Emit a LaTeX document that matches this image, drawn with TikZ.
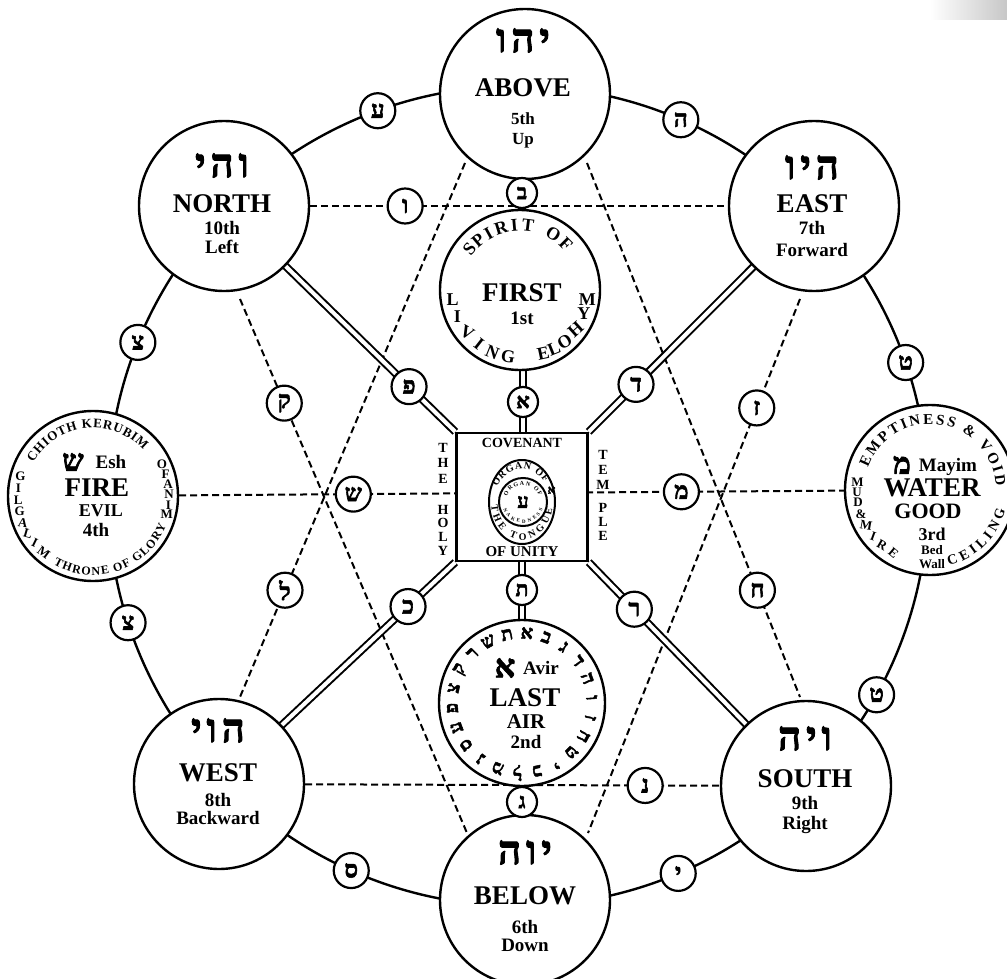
\documentclass[tikz,border=0pt]{standalone}
\usepackage{fontspec}
\setmainfont{Liberation Serif}
\newfontfamily\heb[Script=Hebrew,FakeBold=2.5]{Liberation Serif}
\TeXXeTstate=1
\usetikzlibrary{calc,decorations.text,shapes.geometric}
\pgfdeclarelayer{bg}
\pgfsetlayers{bg,main}
\newcommand\fs[1]{\fontsize{#1}{#1}\selectfont}
\newcommand\hword[3]{\beginR #1\kern5pt #2\kern5pt #3\endR}
\begin{document}
\begin{tikzpicture}[x=1pt,y=1pt,
 bigc/.style={circle,draw,line width=2.4pt,fill=white,minimum size=170pt,inner sep=0pt},
 lc/.style={circle,draw,line width=2.2pt,fill=white,minimum size=35pt,inner sep=0pt,font=\heb\bfseries\fs{24}},
 sc/.style={lc,minimum size=30pt,font=\heb\bfseries\fs{21}},
 lbl/.style={font=\bfseries\fs{27},inner sep=0pt,text height=18pt,text depth=0pt},
 sub/.style={font=\bfseries\fs{19},inner sep=0pt,text height=13pt,text depth=0pt},
 hbw/.style={font=\heb\bfseries\fs{40},inner sep=0pt,text height=24pt,text depth=0pt},
 sm/.style={font=\bfseries\fs{#1},inner sep=0pt},
 dsh/.style={line width=2pt,dash pattern=on 7pt off 4pt},
 dbl/.style={double,line width=2pt,double distance=4pt},
 ring/.style={line width=2.4pt},
]
\useasboundingbox (0,0) rectangle (1007,-979);
\shade[left color=white,right color=black!22] (930,0) rectangle (1007,-20);
\coordinate (rc) at (518,-496);
% big circles
\node[bigc] (above) at (525,-94) {};
\node[bigc] (north) at (224,-206) {};
\node[bigc] (east) at (814,-206) {};
\node[bigc] (fire) at (93,-496) {};
\node[bigc] (water) at (930,-490) {};
\node[bigc] (west) at (219,-784) {};
\node[bigc] (south) at (806,-786) {};
\node[bigc] (below) at (525,-900) {};
\node[bigc,minimum size=160pt] (first) at (520,-290) {};
\node[bigc,minimum size=166pt] (last) at (522,-703) {};
\node[draw,line width=2.4pt,fill=white,minimum width=131pt,minimum height=128pt,inner sep=0pt] (sq) at (522,-497) {};
% hexagram corner coordinates
\coordinate (a1) at (465,-163); \coordinate (w1) at (240,-697);
\coordinate (a2) at (587,-163); \coordinate (s2) at (800,-697);
\coordinate (n3) at (240,-299); \coordinate (b3) at (467,-833);
\coordinate (e4) at (800,-299); \coordinate (b4) at (588,-833);
% ring letters
\foreach \n/\a/\c in {ayin/110/ע, he/66.6/ה, tsu/158/צ, tetu/19/ט, tsl/198/צ, tetl/331/ט, samekh/246/ס, yod/293/י}
  \node[lc] (\n) at ($(rc)+(\a:410)$) {\c};
% stem letters
\node[sc] (bet) at (522,-193) {ב};
\node[sc] (alef) at (523,-402) {א};
\node[sc] (tav) at (522,-590) {ת};
\node[sc] (gimel) at (522,-802) {ג};
% diagonal letters
\node[lc] (pe) at ($(sq.north west)!0.2!(north)$) {פ};
\node[lc] (dalet) at ($(sq.north east)!0.21!(east)$) {ד};
\node[lc] (kaf) at ($(sq.south west)!0.2!(west)$) {כ};
\node[lc] (resh) at ($(sq.south east)!0.21!(south)$) {ר};
% hexagram letters
\node[lc] (qof) at ($(n3)!0.195!(b3)$) {ק};
\node[lc] (lamed) at ($(a1)!0.8!(w1)$) {ל};
\node[lc] (zayin) at ($(e4)!0.204!(b4)$) {ז};
\node[lc] (het) at ($(a2)!0.8!(s2)$) {ח};
\node[lc] (vav) at ($(north)!0.307!(east)$) {ו};
\node[lc] (nun) at ($(west)!0.726!(south)$) {נ};
\node[lc] (shin) at ($(fire)!0.311!(water)$) {ש};
\node[lc] (mem) at ($(fire)!0.703!(water)$) {מ};
% connectors
\begin{pgfonlayer}{bg}
\draw[ring] (rc) circle[radius=410];
\draw[dsh] (a1) -- (w1);
\draw[dsh] (a2) -- (s2);
\draw[dsh] (n3) -- (b3);
\draw[dsh] (e4) -- (b4);
\draw[dsh] (north) -- (east);
\draw[dsh] (west) -- (south);
\draw[dsh] (fire) -- (water);
\draw[dbl] (bet |- above) -- (bet |- first);
\draw[dbl] (alef |- first) -- (alef |- sq);
\draw[dbl] (tav |- sq) -- (tav |- last);
\draw[dbl] (gimel |- last) -- (gimel |- below);
\draw[dbl] (sq.north west) -- (north.center);
\draw[dbl] (sq.north east) -- (east.center);
\draw[dbl] (sq.south west) -- (west.center);
\draw[dbl] (sq.south east) -- (south.center);
\end{pgfonlayer}
% ABOVE
\node[hbw] (ha) at (523,-40) {\hword{י}{ה}{ו}};
\node[lbl] (la) at (523,-88) {ABOVE};
\node[sub,font=\bfseries\fs{17}] (na) at (523,-118) {5th};
\node[sub,font=\bfseries\fs{17}] (wa) at (523,-138) {Up};
% NORTH
\node[hbw] (hn) at (222,-165) {\hword{ו}{ה}{י}};
\node[lbl] (ln) at (222,-203) {NORTH};
\node[sub] (nn) at (222,-228) {10th};
\node[sub] (wn) at (222,-247) {Left};
% EAST
\node[hbw] (he2) at (812,-167) {\hword{ה}{י}{ו}};
\node[lbl] (le) at (812,-203) {EAST};
\node[sub] (ne) at (812,-228) {7th};
\node[sub] (we) at (812,-250) {Forward};
% WEST
\node[hbw] (hw) at (218,-730) {\hword{ה}{ו}{י}};
\node[lbl] (lw) at (218,-772) {WEST};
\node[sub] (nw) at (218,-800) {8th};
\node[sub] (ww) at (218,-818) {Backward};
% SOUTH
\node[hbw] (hs) at (805,-738) {\hword{ו}{י}{ה}};
\node[lbl] (ls) at (805,-778) {SOUTH};
\node[sub] (ns) at (805,-803) {9th};
\node[sub] (ws) at (805,-823) {Right};
% BELOW
\node[hbw] (hb) at (525,-852) {\hword{י}{ו}{ה}};
\node[lbl] (lb) at (525,-895) {BELOW};
\node[sub] (nb) at (525,-927) {6th};
\node[sub] (wb) at (525,-945) {Down};
% FIRST
\node[lbl] (lf) at (522,-292) {FIRST};
\node[sub] (nf) at (522,-318) {1st};
\foreach \c/\a [count=\i] in {S/141,P/130,I/119,R/107,I/95,T/83,O/59,F/45}
  \node[sm=18,rotate=\a-90] (spi\i) at ($(first)+(\a:65)$) {\c};
\foreach \c/\a/\r [count=\i] in {L/188/0,I/203/0,V/219/-30,I/233/-38,N/246/-22,G/260/-8,E/290/12,L/300/22,O/311/32,H/325/42,Y/340/0,M/352/0}
  \node[sm=18,rotate=\r] (liv\i) at ($(first)+(\a:68)$) {\c};
% LAST
\node[font=\heb\bfseries\fs{32},inner sep=0pt] (hl) at (505,-668) {א};
\node[sub] (avir) at (541,-668) {Avir};
\node[lbl] (ll) at (525,-697) {LAST};
\node[sub,font=\bfseries\fs{21}] (air) at (526,-722) {AIR};
\node[sub] (nl) at (526,-742) {2nd};
\foreach \c [count=\i from 0] in {א,ב,ג,ד,ה,ו,ז,ח,ט,י,כ,ל,מ,נ,ס,ע,פ,צ,ק,ר,ש,ת}
  \node[font=\heb\bfseries\fs{19},inner sep=0pt,rotate={-4-16.3636*\i}] (ab\i) at ($(last)+({86-16.3636*\i}:70)$) {\c};
% FIRE
\node[font=\heb\bfseries\fs{30},inner sep=0pt] (hf) at (73,-462) {ש};
\node[sub] (esh) at (111,-462) {Esh};
\node[lbl] (lfi) at (97,-487) {FIRE};
\node[sub,font=\bfseries\fs{18}] (evil) at (101,-510) {EVIL};
\node[sub] (nfi) at (96,-530) {4th};
\path[decorate,decoration={text along path,text align=fit to path,text={|\bfseries\fs{13}|CHIOTH KERUBIM}}] ($(fire)+(151:68)$) arc[start angle=151,end angle=42,radius=68];
\path[decorate,decoration={text along path,text align=fit to path,text={|\bfseries\fs{12}|THRONE OF GLORY}}] ($(fire)+(240:79)$) arc[start angle=240,end angle=338,radius=79];
\foreach \c/\a [count=\i] in {O/25,F/17,A/9,N/1,I/-7,M/-14}
  \node[sm=13] (ofa\i) at ($(fire)+(\a:76)$) {\c};
\foreach \c/\a/\r [count=\i] in {G/165/0,I/174/0,L/183/0,G/192/0,A/201/-8,L/210/-16,I/219/-26,M/229/-36}
  \node[sm=13,rotate=\r] (gil\i) at ($(fire)+(\a:75)$) {\c};
% WATER
\node[font=\heb\bfseries\fs{30},inner sep=0pt] (hwa) at (902,-465) {מ};
\node[sub] (mayim) at (948,-465) {Mayim};
\node[lbl] (lwa) at (932,-487) {WATER};
\node[sub,font=\bfseries\fs{22}] (good) at (928,-512) {GOOD};
\node[sub,font=\bfseries\fs{18}] (nwa) at (932,-534) {3rd};
\node[sm=13] (bed) at (932,-550) {Bed};
\node[sm=13] (wall) at (932,-564) {Wall};
\path[decorate,decoration={text along path,text align=fit to path,text={|\bfseries\fs{15}|EMPTINESS {\&} VOID}}] ($(water)+(160:66)$) arc[start angle=160,end angle=3,radius=66];
\path[decorate,decoration={text along path,text align=fit to path,text={|\bfseries\fs{14}|CEILING}}] ($(water)+(284:78)$) arc[start angle=284,end angle=345,radius=78];
\foreach \c/\a/\r [count=\i] in {M/174/0,U/182/0,D/190/0,{\&}/199/0,M/209/-10,I/219/-20,R/229/-30,E/240/-40}
  \node[sm=13,rotate=\r] (mud\i) at ($(water)+(\a:73)$) {\c};
% SQUARE
\node[sm=14] (cov) at (522,-443) {COVENANT};
\node[sm=15] (uni) at (522,-552) {OF UNITY};
\foreach \c/\y [count=\i] in {T/448,H/463,E/479,H/510,O/523,L/537,Y/551}
  \node[sm=14] (th\i) at (443,-\y) {\c};
\foreach \c/\y [count=\i] in {T/455,E/470,M/485,P/508,L/522,E/536}
  \node[sm=14] (tp\i) at (603,-\y) {\c};
\node[ellipse,draw,line width=2pt,minimum width=66pt,minimum height=84pt,inner sep=0pt] (org) at (522,-502) {};
\node[circle,draw,line width=2pt,minimum size=48pt,inner sep=0pt] (nak) at (523,-502) {};
\path[decorate,decoration={text along path,text align=fit to path,text={|\bfseries\fs{10}|ORGAN OF}}] ($(org)+(152:28 and 33)$) arc[start angle=152,end angle=36,x radius=28,y radius=33];
\path[decorate,decoration={text along path,text align=fit to path,text={|\bfseries\fs{10}|THE TONGUE}}] ($(org)+(185:31 and 38)$) arc[start angle=185,end angle=350,x radius=31,y radius=38];
\node[font=\heb\bfseries\fs{12},inner sep=0pt] (alef2) at ($(org)+(18:31 and 38)$) {א};
\path[decorate,decoration={text along path,text align=fit to path,text={|\bfseries\fs{6}|ORGAN OF}}] ($(nak)+(160:17)$) arc[start angle=160,end angle=20,radius=17];
\path[decorate,decoration={text along path,text align=fit to path,text={|\bfseries\fs{5}|NAKEDNESS}}] ($(nak)+(200:21)$) arc[start angle=200,end angle=340,radius=21];
\node[font=\heb\bfseries\fs{20},inner sep=0pt] (ayin2) at (523,-502) {ע};
\end{tikzpicture}
\end{document}
